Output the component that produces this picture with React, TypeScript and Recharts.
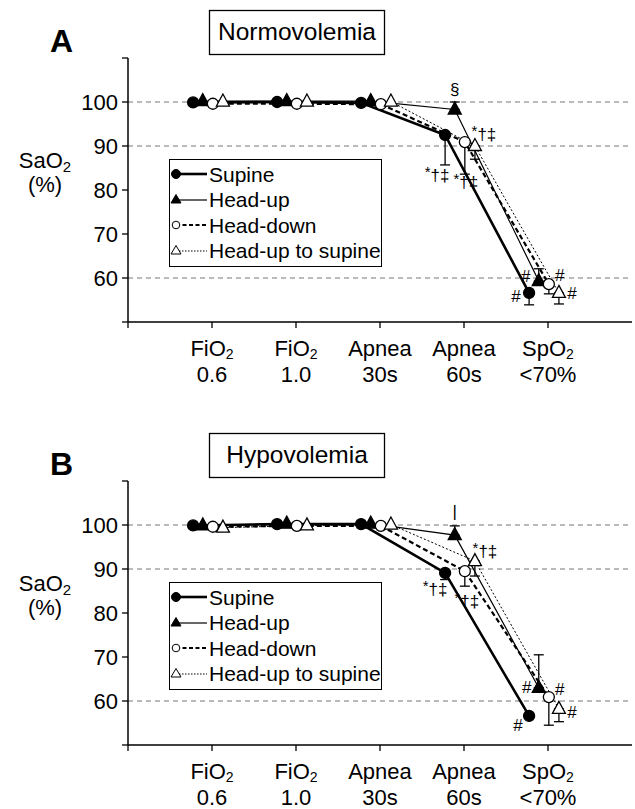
import React from 'react';
import { LineChart, Line, XAxis, YAxis, ReferenceLine, ErrorBar, LabelList, Legend } from 'recharts';

const FONT = '"Liberation Sans", Arial, Helvetica, sans-serif';

const categoryNames = ['FiO2', 'FiO2', 'Apnea', 'Apnea', 'SpO2'];
const categoryDetails = ['0.6', '1.0', '30s', '60s', '<70%'];
const xTicks = [0, 1, 2, 3, 4, 5];
const yTicks = [50, 60, 70, 80, 90, 100, 110];
const yLabeled = [60, 70, 80, 90, 100];
const gridLevels = [100, 90, 60];
const seriesNames = ['Supine', 'Head-up', 'Head-down', 'Head-up to supine'];
const panelTitles = ['Normovolemia', 'Hypovolemia'];
const panelLetters = ['A', 'B'];

// mean SaO2 (%), normovolemia
const normoSupine = [99.9, 100.0, 99.8, 92.5, 56.6];
const normoHeadUp = [100.2, 100.2, 100.2, 98.3, 59.3];
const normoHeadDown = [99.6, 99.6, 99.5, 90.9, 58.6];
const normoHeadUpSupine = [100.1, 100.1, 100.1, 90.0, 56.6];
// SD (only one side drawn)
const normoSupineSD = [0, 0, 0, 6.8, 2.7];
const normoHeadUpSD = [0, 0, 0, 1.7, 2.8];
const normoHeadDownSD = [0, 0, 0, 7.3, 2.2];
const normoHeadUpSupineSD = [0, 0, 0, 3.0, 2.5];

// mean SaO2 (%), hypovolemia
const hypoSupine = [99.9, 100.2, 100.2, 89.1, 56.6];
const hypoHeadUp = [99.9, 100.3, 100.3, 97.7, 63.0];
const hypoHeadDown = [99.6, 99.8, 99.8, 89.5, 60.9];
const hypoHeadUpSupine = [99.4, 99.9, 100.1, 91.8, 58.2];
const hypoSupineSD = [0, 0, 0, 1.5, 0];
const hypoHeadUpSD = [0, 0, 0, 2.1, 7.5];
const hypoHeadDownSD = [0, 0, 0, 3.4, 6.4];
const hypoHeadUpSupineSD = [0, 0, 0, 3.4, 2.9];

// significance marks
const normoNotes = [
  ['', '', '', '*†‡', '#'],
  ['', '', '', '§', '#'],
  ['', '', '', '*†‡', '#'],
  ['', '', '', '*†‡', '#'],
];
const hypoNotes = [
  ['', '', '', '*†‡', '#'],
  ['', '', '', '|', '#'],
  ['', '', '', '*†‡', '#'],
  ['', '', '', '*†‡', '#'],
];

// head-up bars point up, the rest down
const errorSide = [-1, 1, -1, -1];
const dodge = [-0.225, -0.11, 0.01, 0.13];

const seriesStyle = [
  { shape: 'circle', filled: true, width: 2.6, dash: undefined },
  { shape: 'triangle', filled: true, width: 1.2, dash: undefined },
  { shape: 'circle', filled: false, width: 2.2, dash: '5 3' },
  { shape: 'triangle', filled: false, width: 1, dash: '2 2' },
];

// text offsets (px) of the marks from their point, per panel / series / index
const noteOffsets = [
  [
    { 3: [-8, 40], 4: [-13, 3] },
    { 3: [0, -20], 4: [-13, -5] },
    { 3: [1, 40], 4: [11, -9] },
    { 3: [9, -12], 4: [13, 0] },
  ],
  [
    { 3: [-10, 16], 4: [-11, 9] },
    { 3: [0, -24], 4: [-12, -1] },
    { 3: [2, 30], 4: [11, -8] },
    { 3: [10, -10], 4: [13, 3] },
  ],
];

const buildRows = (values, sds, notes, s) =>
  values.map((v, i) => ({
    x: i + 1 + dodge[s],
    y: v,
    err: sds[i] ? (errorSide[s] < 0 ? [sds[i], 0] : [0, sds[i]]) : undefined,
    note: notes[i],
  }));

const panels = [
  [
    buildRows(normoSupine, normoSupineSD, normoNotes[0], 0),
    buildRows(normoHeadUp, normoHeadUpSD, normoNotes[1], 1),
    buildRows(normoHeadDown, normoHeadDownSD, normoNotes[2], 2),
    buildRows(normoHeadUpSupine, normoHeadUpSupineSD, normoNotes[3], 3),
  ],
  [
    buildRows(hypoSupine, hypoSupineSD, hypoNotes[0], 0),
    buildRows(hypoHeadUp, hypoHeadUpSD, hypoNotes[1], 1),
    buildRows(hypoHeadDown, hypoHeadDownSD, hypoNotes[2], 2),
    buildRows(hypoHeadUpSupine, hypoHeadUpSupineSD, hypoNotes[3], 3),
  ],
];

const withSub = (label: string) =>
  label.endsWith('2')
    ? [label.slice(0, -1), <tspan key="s" fontSize={14} dy={3}>2</tspan>]
    : label;

const renderXTick = (props) => {
  const { x, y, payload } = props;
  const i = payload.value - 1;
  if (i < 0 || i >= categoryNames.length) return <g />;
  return (
    <g fontFamily={FONT} fill="#000">
      <text x={x} y={y + 26} textAnchor="middle" fontSize={22}>{withSub(categoryNames[i])}</text>
      <text x={x} y={y + 52} textAnchor="middle" fontSize={22}>{categoryDetails[i]}</text>
    </g>
  );
};

const makeDot = (s: number) => (props) => {
  const { cx, cy, index } = props;
  const st = seriesStyle[s];
  const fill = st.filled ? '#000' : '#fff';
  if (st.shape === 'circle') {
    return <circle key={`d${index}`} cx={cx} cy={cy} r={5.5} fill={fill} stroke="#000" strokeWidth={1.3} />;
  }
  return (
    <polygon
      key={`d${index}`}
      points={`${cx},${cy - 7.5} ${cx - 6.5},${cy + 4.5} ${cx + 6.5},${cy + 4.5}`}
      fill={fill}
      stroke="#000"
      strokeWidth={1.3}
    />
  );
};

const makeNote = (p: number, s: number) => (props) => {
  const { x, y, value, index } = props;
  if (!value) return null;
  const off = noteOffsets[p][s][index] || [0, 0];
  const tx = x + off[0];
  const ty = y + off[1] + 6;
  if (value.startsWith('*')) {
    return (
      <text x={tx} y={ty} textAnchor="middle" fontSize={17} fontFamily={FONT} fill="#000">
        <tspan fontSize={15} dy={-4}>*</tspan>
        <tspan dy={4}>{value.slice(1)}</tspan>
      </text>
    );
  }
  return (
    <text x={tx} y={ty} textAnchor="middle" fontSize={17} fontFamily={FONT} fill="#000">
      {value}
    </text>
  );
};

const LegendIcon = ({ s }) => {
  const st = seriesStyle[s];
  const fill = st.filled ? '#000' : '#fff';
  return (
    <svg width={38} height={20} style={{ display: 'block' }}>
      <line x1={6} y1={10} x2={37} y2={10} stroke="#000" strokeWidth={st.width} strokeDasharray={st.dash ? (s === 2 ? '4 2.5' : '1.5 1.5') : undefined} />
      {st.shape === 'circle' ? (
        <circle cx={6} cy={10} r={s === 0 ? 4.5 : 3.8} fill={fill} stroke="#000" strokeWidth={1} />
      ) : (
        <polygon points="6,4.5 1,13 11,13" fill={fill} stroke="#000" strokeWidth={1} />
      )}
    </svg>
  );
};

const renderLegend = () => (
  <div
    style={{
      border: '1.3px solid #000',
      background: '#fff',
      width: 213,
      height: 108,
      boxSizing: 'border-box',
      paddingTop: 1.5,
      fontFamily: FONT,
      color: '#000',
    }}
  >
    {seriesNames.map((name, s) => (
      <div key={name} style={{ display: 'flex', alignItems: 'center', height: 25.5 }}>
        <LegendIcon s={s} />
        <span style={{ fontSize: 21, lineHeight: '25px', marginLeft: 1 }}>{name}</span>
      </div>
    ))}
  </div>
);

function Panel({ p, top, height }) {
  const series = panels[p];
  return (
    <div style={{ position: 'absolute', left: 0, top, width: 635, height }}>
      <LineChart width={635} height={height} margin={{ top: 58, right: 3, bottom: height - 322 - 60, left: 68 }}>
        <XAxis
          type="number"
          dataKey="x"
          domain={[0, 6]}
          ticks={xTicks}
          interval={0}
          height={60}
          tickSize={6}
          tick={renderXTick}
          axisLine={{ stroke: '#000', strokeWidth: 1.5 }}
          tickLine={{ stroke: '#000', strokeWidth: 1.3 }}
        />
        <YAxis
          type="number"
          domain={[50, 110]}
          ticks={yTicks}
          interval={0}
          width={60}
          tickSize={6}
          tickMargin={4}
          tickFormatter={(v) => (yLabeled.includes(v) ? String(v) : '')}
          tick={{ fill: '#000', fontSize: 22, fontFamily: FONT }}
          axisLine={{ stroke: '#000', strokeWidth: 1.5 }}
          tickLine={{ stroke: '#000', strokeWidth: 1.3 }}
        />
        {gridLevels.map((g) => (
          <ReferenceLine key={g} y={g} stroke="#777" strokeDasharray="5 4" strokeWidth={1} />
        ))}
        <Legend layout="vertical" align="center" verticalAlign="middle" content={renderLegend} wrapperStyle={{ left: 169, top: 159, width: 'auto', height: 'auto' }} />
        {series.map((rows, s) => (
          <Line
            key={seriesNames[s]}
            name={seriesNames[s]}
            data={rows}
            dataKey="y"
            stroke="#000"
            strokeWidth={seriesStyle[s].width}
            strokeDasharray={seriesStyle[s].dash}
            dot={makeDot(s)}
            activeDot={false}
            isAnimationActive={false}
          >
            <ErrorBar dataKey="err" direction="y" width={5} stroke="#000" strokeWidth={1.3} />
            <LabelList dataKey="note" content={makeNote(p, s)} />
          </Line>
        ))}
      </LineChart>
      <svg width={635} height={120} style={{ position: 'absolute', left: 0, top: 0, pointerEvents: 'none' }} fontFamily={FONT}>
        <text x={50} y={52} fontSize={32} fontWeight="bold" fill="#000">{panelLetters[p]}</text>
        <rect x={209.5} y={10.5} width={175} height={44} fill="#fff" stroke="#000" strokeWidth={1.3} />
        <text x={297} y={40} fontSize={24.5} textAnchor="middle" fill="#000">{panelTitles[p]}</text>
      </svg>
      <svg width={90} height={60} style={{ position: 'absolute', left: 0, top: 145, pointerEvents: 'none' }} fontFamily={FONT}>
        <text x={45} y={23} fontSize={22} textAnchor="middle" fill="#000">
          SaO<tspan fontSize={15} dy={4}>2</tspan>
        </text>
        <text x={45} y={47} fontSize={22} textAnchor="middle" fill="#000">(%)</text>
      </svg>
    </div>
  );
}

export default function App() {
  return (
    <div style={{ position: 'absolute', left: 0, top: 0, width: 635, height: 809, background: '#fff' }}>
      <Panel p={0} top={0} height={423} />
      <Panel p={1} top={423} height={386} />
    </div>
  );
}
